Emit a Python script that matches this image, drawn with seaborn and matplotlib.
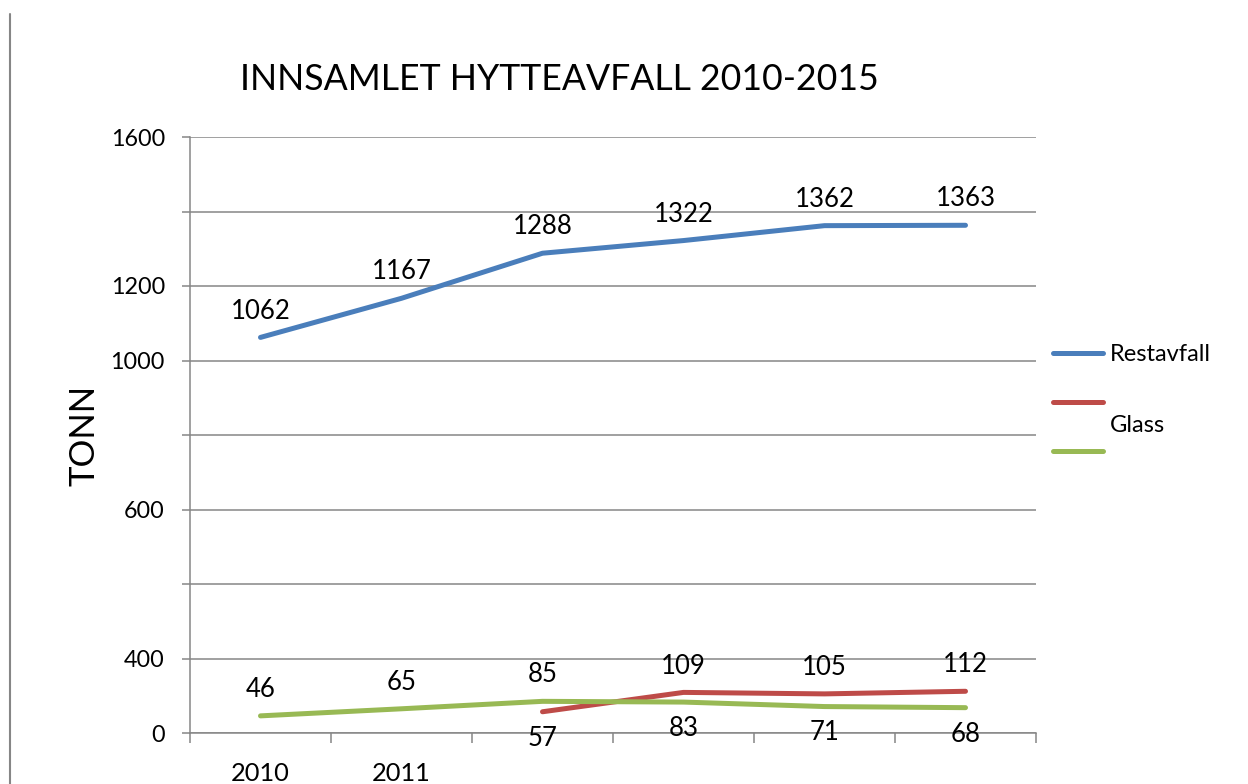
import matplotlib
matplotlib.use("Agg")
import matplotlib.pyplot as plt
import pandas as pd
import seaborn as sns
from matplotlib.lines import Line2D


years = [2010, 2011, 2012, 2013, 2014, 2015]
restavfall = [1062, 1167, 1288, 1322, 1362, 1363]
red_years = [2012, 2013, 2014, 2015]
red_values = [57, 109, 105, 112]
glass = [46, 65, 85, 83, 71, 68]

year_labels = ["2010", "2011", "", "", "", ""]
y_ticks = [0, 200, 400, 600, 800, 1000, 1200, 1400, 1600]
y_tick_labels = ["0", "400", "", "600", "", "1000", "1200", "", "1600"]

# which side of the line the value label sits on (1 above, -1 below)
glass_side = [1, 1, 1, -1, -1, -1]
red_side = [-1, 1, 1, 1]

colors = {"Restavfall": "#4A7EBB", "Rød": "#BE4B48", "Glass": "#98B954"}


def build_frame():
    rows = []
    for y, v in zip(years, restavfall):
        rows.append({"year": y, "tonn": v, "serie": "Restavfall"})
    for y, v in zip(red_years, red_values):
        rows.append({"year": y, "tonn": v, "serie": "Rød"})
    for y, v in zip(years, glass):
        rows.append({"year": y, "tonn": v, "serie": "Glass"})
    return pd.DataFrame(rows)


sns.set_theme(style="white")
plt.rcParams["font.family"] = ["Lato", "DejaVu Sans"]
plt.rcParams["text.color"] = "black"
plt.rcParams["xtick.color"] = "black"
plt.rcParams["ytick.color"] = "black"
plt.rcParams["axes.labelcolor"] = "black"

df = build_frame()
fig = plt.figure(figsize=(12.48, 7.84), dpi=100)
ax = fig.add_axes([190 / 1248, 51 / 784, 846 / 1248, 596 / 784])

sns.lineplot(data=df, x="year", y="tonn", hue="serie", palette=colors,
             linewidth=3.6, ax=ax, legend=False, sort=False)

ax.set_xlim(2009.5, 2015.5)
ax.set_ylim(0, 1600)
ax.set_yticks(y_ticks)
ax.set_yticklabels(y_tick_labels, fontsize=16.8)
ax.set_xticks(years)
ax.set_xticklabels(year_labels, fontsize=18.3)
ax.set_xticks([y - 0.5 for y in years] + [2015.5], minor=True)
ax.tick_params(axis="x", which="major", length=0, pad=21)
ax.tick_params(axis="x", which="minor", length=7, width=1.1, color="#868686",
               direction="out", bottom=True)
ax.tick_params(axis="y", length=6, width=1.1, color="#868686", direction="out",
               pad=12, left=True, labelcolor="black")
ax.grid(axis="y", color="#868686", linewidth=1.1)
ax.set_axisbelow(True)
for side in ["top", "right"]:
    ax.spines[side].set_visible(False)
for side in ["left", "bottom"]:
    ax.spines[side].set_color("#868686")
    ax.spines[side].set_linewidth(1.1)
ax.set_xlabel("")
ax.set_ylabel("TONN", fontsize=25)
ax.yaxis.set_label_coords(-0.106, 0.5)

# value labels
for y, v in zip(years, restavfall):
    ax.annotate(str(v), (y, v), xytext=(0, 19), textcoords="offset points",
                ha="center", va="center", fontsize=18.5)
for y, v, s in zip(years, glass, glass_side):
    ax.annotate(str(v), (y, v), xytext=(0, 19 * s), textcoords="offset points",
                ha="center", va="center", fontsize=18.5)
for y, v, s in zip(red_years, red_values, red_side):
    ax.annotate(str(v), (y, v), xytext=(0, 19 * s), textcoords="offset points",
                ha="center", va="center", fontsize=18.5)

# legend: red entry has no label, "Glass" sits between red and green
handles = [Line2D([], [], color=colors[k], lw=3.6) for k in colors]
fig.legend(handles, ["Restavfall", "", ""], loc="upper left",
           bbox_to_anchor=(1053 / 1248, 1 - 344 / 784), frameon=False,
           fontsize=17, handlelength=2.12, handletextpad=0.3,
           labelspacing=1.2, borderpad=0, borderaxespad=0)
fig.text(1110 / 1248, 1 - 425 / 784, "Glass", fontsize=17, va="center", ha="left")

fig.text(559 / 1248, 1 - 80 / 784, "INNSAMLET HYTTEAVFALL 2010-2015",
         fontsize=25.7, ha="center", va="center")

fig.add_artist(Line2D([10 / 1248, 10 / 1248], [0, 1 - 14 / 784],
                      transform=fig.transFigure, color="#868686", lw=1.5))

fig.savefig("out.png", dpi=100)
